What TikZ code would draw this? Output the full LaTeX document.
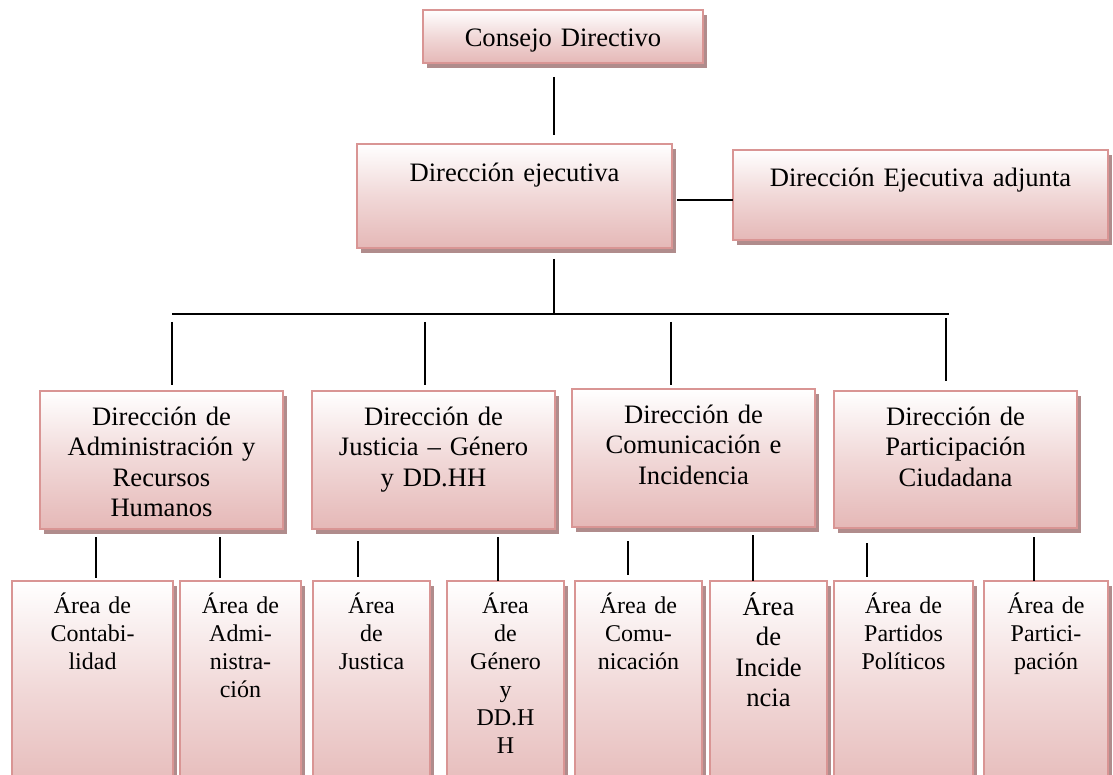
\documentclass[tikz,border=0pt]{standalone}
\usepackage{fontspec}
\setmainfont{Liberation Serif}
\usetikzlibrary{shadows}
\definecolor{boxline}{RGB}{217,149,148}
\definecolor{boxpink}{RGB}{229,184,183}
\definecolor{boxshade}{RGB}{176,140,140}

\begin{document}
\begin{tikzpicture}[x=1pt,y=-1pt,
        orgbox/.style={draw=boxline, line width=2pt, top color=white, bottom color=boxpink, middle color=boxpink!55!white,
            drop shadow={shadow xshift=4pt, shadow yshift=-5pt, fill=boxshade, opacity=1},
            anchor=north west, inner sep=0pt, outer sep=0pt, align=center},
        boxsize/.style n args={3}{text width=#1pt, text height=#2pt, text depth=#3pt},
        big/.style={font=\fontsize{26.6}{30.5}\selectfont},
        small/.style={font=\fontsize{24}{28}\selectfont},
        conn/.style={line width=1.6pt}]
        \useasboundingbox (0,0) rectangle (1113,775);
        \clip (0,0) rectangle (1113,775);

        \node[orgbox, big, boxsize={280}{37}{16}] (cd) at (423,10) {Consejo Directivo};
        \node[orgbox, big, boxsize={315}{38}{66}] (de) at (357,144) {Dirección ejecutiva};
        \node[orgbox, big, boxsize={375}{37}{53}] (dea) at (733,150) {Dirección Ejecutiva adjunta};

        \node[orgbox, big, boxsize={243}{34}{104}] (d1) at (40,391) {Dirección de\\Administración y\\Recursos\\Humanos};
        \node[orgbox, big, boxsize={243}{34}{104}] (d2) at (312,391) {Dirección de\\Justicia – Género\\y DD.HH};
        \node[orgbox, big, boxsize={243}{34}{104}] (d3) at (572,389) {Dirección de\\Comunicación e\\Incidencia};
        \node[orgbox, big, boxsize={243}{34}{103}] (d4) at (834,391) {Dirección de\\Participación\\Ciudadana};

        \node[orgbox, small, boxsize={161}{32}{187}] (a1) at (12,581) {Área de\\Contabi-\\lidad};
        \node[orgbox, small, boxsize={121}{32}{187}] (a2) at (180,581) {Área de\\Admi-\\nistra-\\ción};
        \node[orgbox, small, boxsize={117}{32}{187}] (a3) at (313,581) {Área\\de\\Justica};
        \node[orgbox, small, boxsize={117}{32}{187}] (a4) at (447,581) {Área\\de\\Género\\y\\DD.H\\H};
        \node[orgbox, small, boxsize={127}{32}{187}] (a5) at (575,581) {Área de\\Comu-\\nicación};
        \node[orgbox, big, boxsize={117}{34}{185}] (a6) at (710,581) {Área\\de\\Incide\\ncia};
        \node[orgbox, small, boxsize={139}{32}{187}] (a7) at (834,581) {Área de\\Partidos\\Políticos};
        \node[orgbox, small, boxsize={124}{32}{187}] (a8) at (984,581) {Área de\\Partici-\\pación};

        \coordinate (hub) at (554,314);
        \coordinate (side) at (700,200);
        \coordinate (b1) at (172,314);
        \coordinate (b2) at (425,314);
        \coordinate (b3) at (671,314);
        \coordinate (b4) at (946,314);

        \draw[conn, shorten <=14pt, shorten >=9pt] (cd.south -| hub) -- (de.north -| hub);
        \draw[conn, shorten <=5pt] (de.east |- side) -- (dea.west |- side);
        \draw[conn, shorten <=11pt] (de.south -| hub) -- (hub);
        \draw[conn] (b1) -- ([xshift=3pt]b4);
        \foreach \n/\s/\e in {1/8pt/6pt, 2/8pt/6pt, 3/8pt/4pt, 4/4pt/10pt}
            \draw[conn, shorten <=\s, shorten >=\e] (b\n) -- (d\n.north -| b\n);
        \foreach \p/\c/\x/\s/\e in {d1/a1/96/8pt/3pt, d1/a2/220/8pt/3pt, d2/a3/358/12pt/4pt, d2/a4/498/8pt/0pt,
                d3/a5/628/14pt/6pt, d3/a6/753/8pt/0pt, d4/a7/867/15pt/4pt, d4/a8/1034/9pt/0pt}
            \draw[conn, shorten <=\s, shorten >=\e] (\p.south -| \x,0) -- (\c.north -| \x,0);
    \end{tikzpicture}
\end{document}
